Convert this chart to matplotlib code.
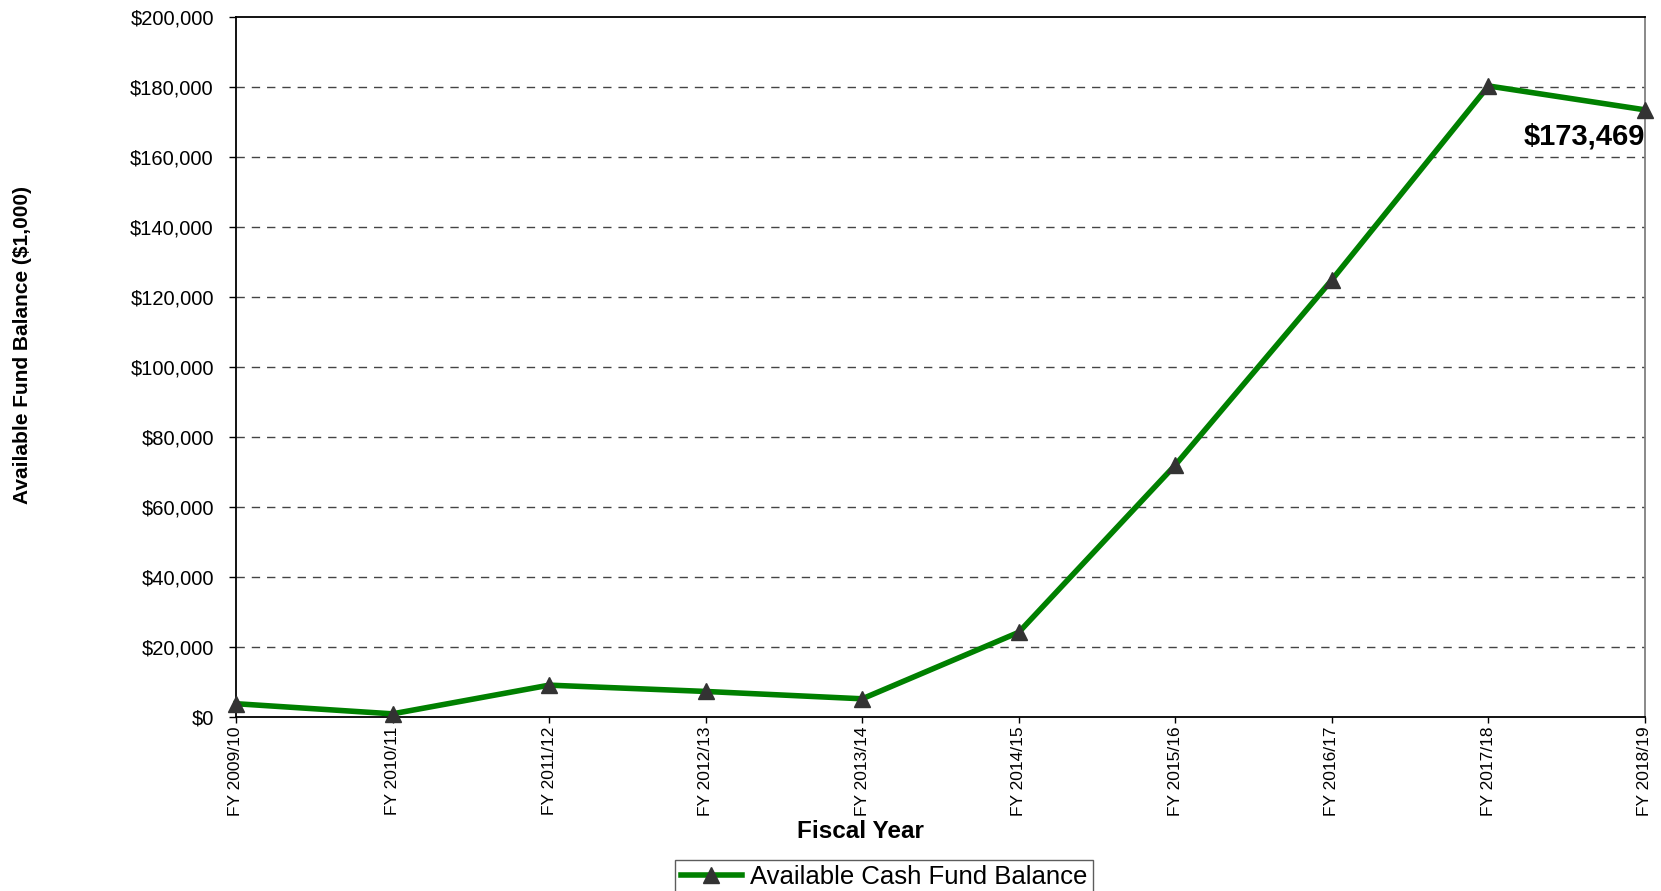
import numpy as np
import matplotlib
matplotlib.use("Agg")
from matplotlib import pyplot as plt
from matplotlib.ticker import FuncFormatter, MultipleLocator

plt.rcParams['font.family'] = ['Liberation Sans', 'DejaVu Sans']

# fund balance by fiscal year, in $1,000
years = ['FY 2009/10', 'FY 2010/11', 'FY 2011/12', 'FY 2012/13', 'FY 2013/14',
         'FY 2014/15', 'FY 2015/16', 'FY 2016/17', 'FY 2017/18', 'FY 2018/19']
balance = [3800, 900, 9100, 7300, 5200, 24200, 72000, 124900, 180300, 173469]
series_name = 'Available Cash Fund Balance'

W, H = 1661, 891
fig = plt.figure(figsize=(W / 100, H / 100), dpi=100)
left, right, top, bottom = 236, 1645, 17, 717
ax = fig.add_axes([left / W, 1 - bottom / H, (right - left) / W, (bottom - top) / H])

x = np.arange(len(years))
line, = ax.plot(x, balance, color='#008000', linewidth=4.0, marker='^',
                markersize=11, markerfacecolor='#333333', markeredgecolor='#333333',
                clip_on=False, zorder=3, label=series_name)

ax.set_xlim(0, len(years) - 1)
ax.set_ylim(0, 200000)
ax.yaxis.set_major_locator(MultipleLocator(20000))
ax.yaxis.set_major_formatter(FuncFormatter(lambda v, p: '${:,.0f}'.format(v)))
ax.set_xticks(x)
ax.set_xticklabels(years, rotation=90, fontsize=12.5)
ax.tick_params(axis='y', labelsize=14.5, length=5, pad=11, width=1)
ax.tick_params(axis='x', length=4, pad=3, width=1)

# dashed gridlines, skip the top one (spine already there)
for v in range(20000, 200000, 20000):
    ax.axhline(v, color='#444444', linewidth=1, dashes=(6, 5), zorder=1)

for s in ['left', 'bottom', 'top']:
    ax.spines[s].set_color('black')
    ax.spines[s].set_linewidth(1.3)
ax.spines['right'].set_color('#808080')
ax.spines['right'].set_linewidth(1.3)

# last value label
ax.annotate('${:,.0f}'.format(balance[-1]), xy=(x[-1], balance[-1]),
            xytext=(0, -19), textcoords='offset points', ha='right', va='center',
            fontsize=21, fontweight='bold')

fig.text(23 / W, 1 - 345 / H, 'Available Fund Balance ($1,000)', rotation=90,
         ha='center', va='center', fontsize=15, fontweight='bold')
fig.text(860 / W, 1 - 832 / H, 'Fiscal Year', ha='center', va='center',
         fontsize=17.5, fontweight='bold')

leg = fig.legend(handles=[line], loc='upper center', bbox_to_anchor=(884 / W, 1 - 860 / H),
                 fontsize=18.5, frameon=True, fancybox=False, handlelength=2.4,
                 borderpad=0.2, handletextpad=0.3, borderaxespad=0)
leg.get_frame().set_edgecolor('#333333')
leg.get_frame().set_linewidth(1.0)

plt.savefig('out.png', dpi=100)
